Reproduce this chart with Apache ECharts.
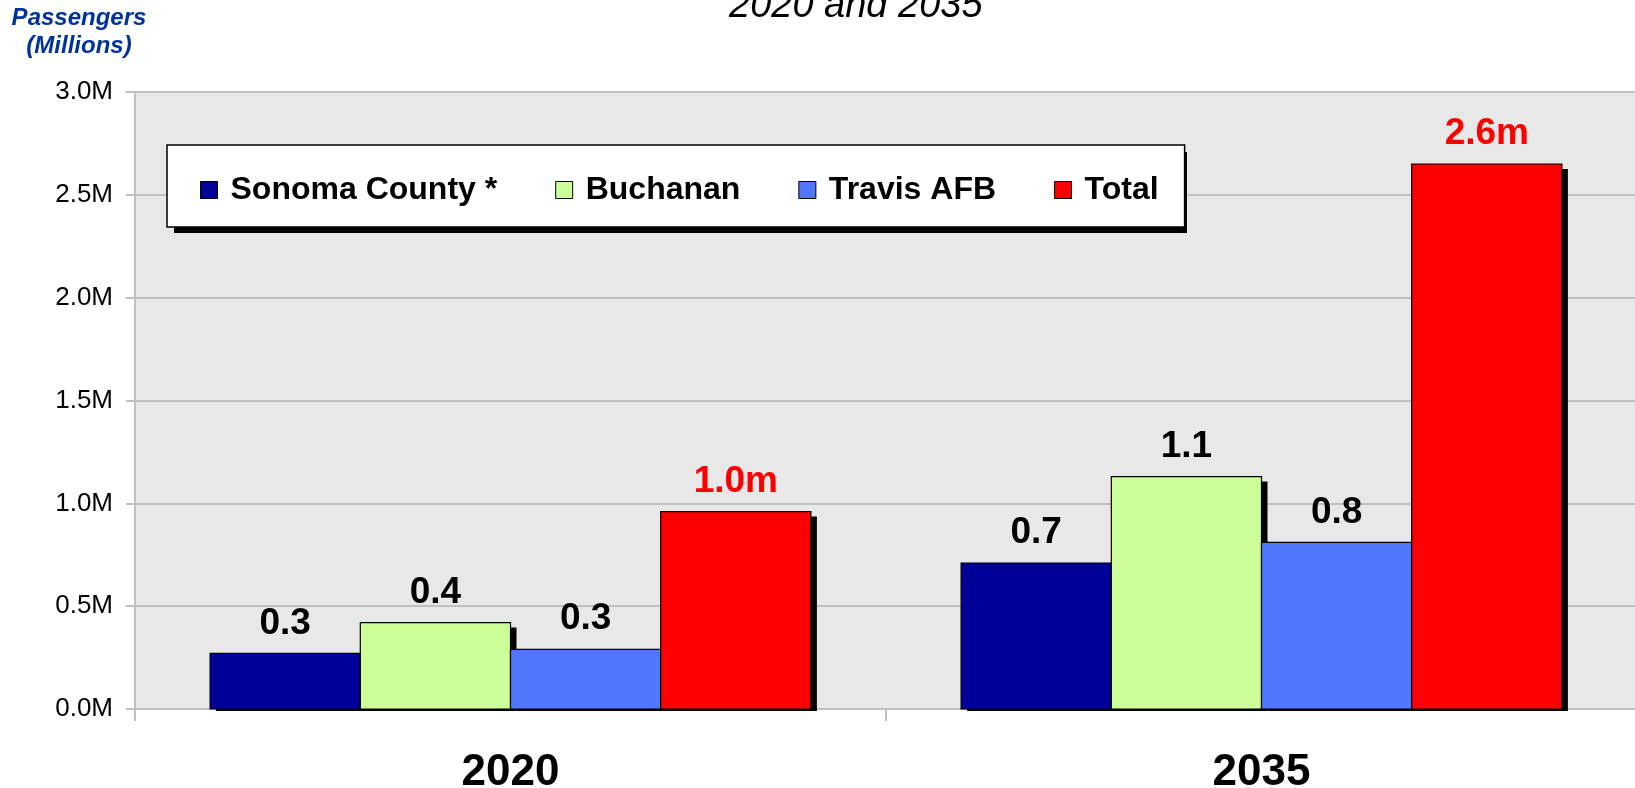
<!DOCTYPE html>
<html>
<head>
<meta charset="utf-8">
<script src="https://cdn.jsdelivr.net/npm/echarts@6/dist/echarts.min.js"></script>
<style>
  html, body { margin: 0; padding: 0; background: #fff; }
  #chart { width: 1635px; height: 788px; }
</style>
</head>
<body>
<div id="chart"></div>
<script>
// passengers per airport, in millions
const categories = ['2020', '2035'];
const seriesNames = ['Sonoma County *', 'Buchanan', 'Travis AFB', 'Total'];
const sonoma = [0.27, 0.71];
const buchanan = [0.42, 1.13];
const travis = [0.29, 0.81];
const total = [0.96, 2.65];

const FONT = '"Liberation Sans", Arial, sans-serif';
const GREY = '#c0c0c0';
const colors = ['#000099', '#ccff99', '#5277ff', '#ff0000'];
const labelColors = ['#000', '#000', '#000', '#ff0000'];
const suffixes = ['', '', '', 'm'];
const allData = [sonoma, buchanan, travis, total];

// bar with a hard drop shadow, drawn through the axis scales
function makeSeries(idx) {
    return {
        name: seriesNames[idx],
        type: 'custom',
        itemStyle: { color: colors[idx] },
        data: allData[idx].map((v, i) => [i, v]),
        renderItem: (params, api) => {
            const base = api.coord([api.value(0), 0]);
            const top = api.coord([api.value(0), api.value(1)]);
            const band = api.size([1, 0])[0];
            const w = band * 0.8 / 4;
            const x0 = base[0] - band * 0.4 + idx * w;
            const label = api.value(1).toFixed(1) + suffixes[idx];
            return {
                type: 'group',
                children: [{
                    type: 'rect',
                    shape: { x: x0 + 6, y: top[1] + 5, width: w, height: base[1] + 2 - (top[1] + 5) },
                    style: { fill: '#000' }
                }, {
                    type: 'rect',
                    shape: { x: x0, y: top[1], width: w, height: base[1] - top[1] },
                    style: { fill: colors[idx], stroke: '#000', lineWidth: 1.2 },
                    textContent: {
                        style: {
                            text: label,
                            fill: labelColors[idx],
                            font: 'bold 37px ' + FONT
                        }
                    },
                    textConfig: { position: 'top', distance: 11 }
                }]
            };
        }
    };
}

const chart = echarts.init(document.getElementById('chart'));

chart.setOption({
    animation: false,
    backgroundColor: '#fff',
    title: {
        text: '2020 and 2035',
        left: 724,
        top: -18,
        textStyle: {
            fontFamily: FONT,
            fontStyle: 'italic',
            fontWeight: 'normal',
            fontSize: 38,
            lineHeight: 38,
            color: '#000'
        }
    },
    graphic: [{
        type: 'text',
        x: 79,
        y: 4,
        style: {
            text: 'Passengers\n(Millions)',
            align: 'center',
            verticalAlign: 'top',
            font: 'italic bold 24px ' + FONT,
            lineHeight: 28,
            fill: '#003399'
        }
    }, {
        // drop shadow behind the legend box
        type: 'rect',
        z: 3,
        shape: { x: 174, y: 152, width: 1013, height: 81 },
        style: { fill: '#000' }
    }],
    legend: {
        left: 167,
        top: 145,
        z: 5,
        padding: [27, 26, 19, 33],
        itemGap: 58,
        itemWidth: 17,
        itemHeight: 17,
        icon: 'rect',
        backgroundColor: '#fff',
        borderColor: '#000',
        borderWidth: 1.5,
        itemStyle: {
            borderColor: '#000',
            borderWidth: 1
        },
        textStyle: {
            fontFamily: FONT,
            fontWeight: 'bold',
            fontSize: 32,
            lineHeight: 36,
            color: '#000',
            padding: [0, 0, 0, 8]
        },
        data: seriesNames,
        selectedMode: false
    },
    grid: {
        show: true,
        backgroundColor: '#e8e8e8',
        borderWidth: 0,
        left: 135,
        top: 92,
        width: 1502,
        bottom: 79,
        containLabel: false,
        outerBoundsMode: 'none'
    },
    xAxis: {
        type: 'category',
        data: categories,
        axisLine: { show: true, lineStyle: { color: GREY, width: 2 } },
        axisTick: { show: true, length: 12, lineStyle: { color: GREY, width: 2 } },
        axisLabel: {
            margin: 42,
            fontFamily: FONT,
            fontWeight: 'bold',
            fontSize: 44,
            lineHeight: 44,
            color: '#000'
        },
        splitLine: { show: false }
    },
    yAxis: {
        type: 'value',
        min: 0,
        max: 3,
        interval: 0.5,
        axisLine: { show: true, lineStyle: { color: GREY, width: 2 } },
        axisTick: { show: true, length: 9, lineStyle: { color: GREY, width: 2 } },
        axisLabel: {
            margin: 22,
            fontFamily: FONT,
            fontSize: 26,
            color: '#000',
            formatter: v => v.toFixed(1) + 'M'
        },
        splitLine: { show: true, lineStyle: { color: GREY, width: 2 } }
    },
    series: [0, 1, 2, 3].map(makeSeries)
});
</script>
</body>
</html>
